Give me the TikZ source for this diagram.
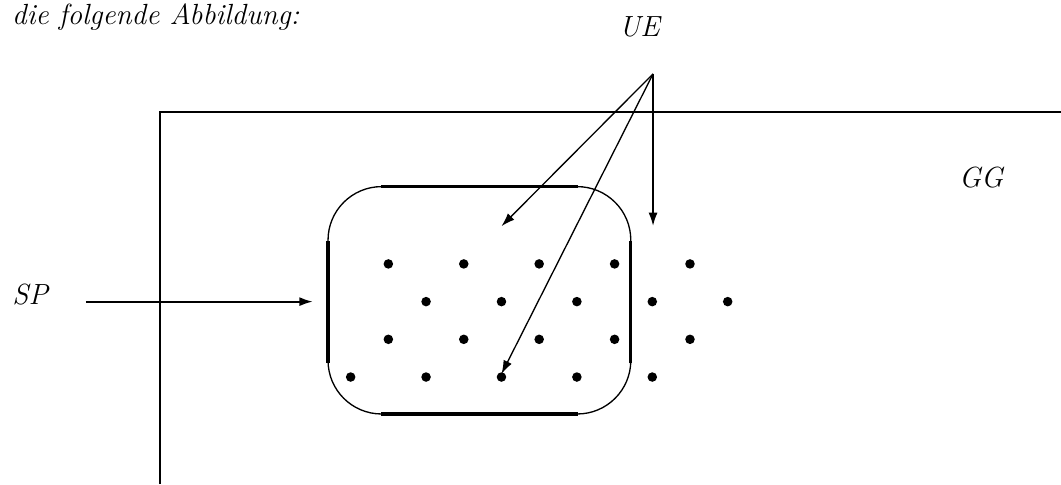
\documentclass[tikz,border=0pt]{standalone}
\usetikzlibrary{arrows.meta}

\begin{document}
\begin{tikzpicture}[x=0.5cm,y=0.5cm,>={Latex[length=1.8mm,width=1.2mm]},
    every node/.style={font=\fontsize{11}{13}\selectfont\itshape}]
  \useasboundingbox (-9.30,-2.84) rectangle (18.84,10.0);
  % text
  \node[anchor=base west,inner sep=0pt] (intro) at (-8.99,9.36) {die folgende Abbildung:};
  \node (ue) at (7.66,9.28) {UE};
  \node (gg) at (16.72,5.29) {GG};
  \node (sp) at (-8.5,2.2) {SP};
  % frame
  \coordinate (fb) at (-5.06,-2.84);
  \coordinate (fc) at (-5.06,7.04);
  \coordinate (fr) at (18.84,7.04);
  \draw[line width=0.8pt] (fb) -- (fc) -- (fr);
  % region
  \draw[line width=0.5pt,rounded corners=0.71cm] (-0.6,-0.98) rectangle (7.43,5.05);
  \draw[line width=1.2pt] (0.81,5.05) -- (6.03,5.05);
  \draw[line width=1.2pt] (0.81,-0.98) -- (6.03,-0.98);
  \draw[line width=1.2pt] (-0.6,0.37) -- (-0.6,3.61);
  \draw[line width=1.2pt] (7.43,0.37) -- (7.43,3.61);
  % points
  \foreach \x in {0,2,...,8} \fill (\x,0) circle (1.8pt);
  \foreach \x in {1,3,...,9} \fill (\x,1) circle (1.8pt);
  \foreach \x in {2,4,...,10} \fill (\x,2) circle (1.8pt);
  \foreach \x in {1,3,...,9} \fill (\x,3) circle (1.8pt);
  % arrows
  \coordinate (apex) at (8.02,8.04);
  \coordinate (a1) at (4.0,4.0);
  \coordinate (a2) at (4.0,0.08);
  \coordinate (a3) at (8.02,4.0);
  \coordinate (spstart) at (-7.02,2.0);
  \coordinate (spend) at (-1.0,2.0);
  \draw[line width=0.5pt,->] (apex) -- (a1);
  \draw[line width=0.5pt,->] (apex) -- (a2);
  \draw[line width=0.8pt,->] (apex) -- (a3);
  \draw[line width=0.8pt,->] (spstart) -- (spend);
\end{tikzpicture}
\end{document}
